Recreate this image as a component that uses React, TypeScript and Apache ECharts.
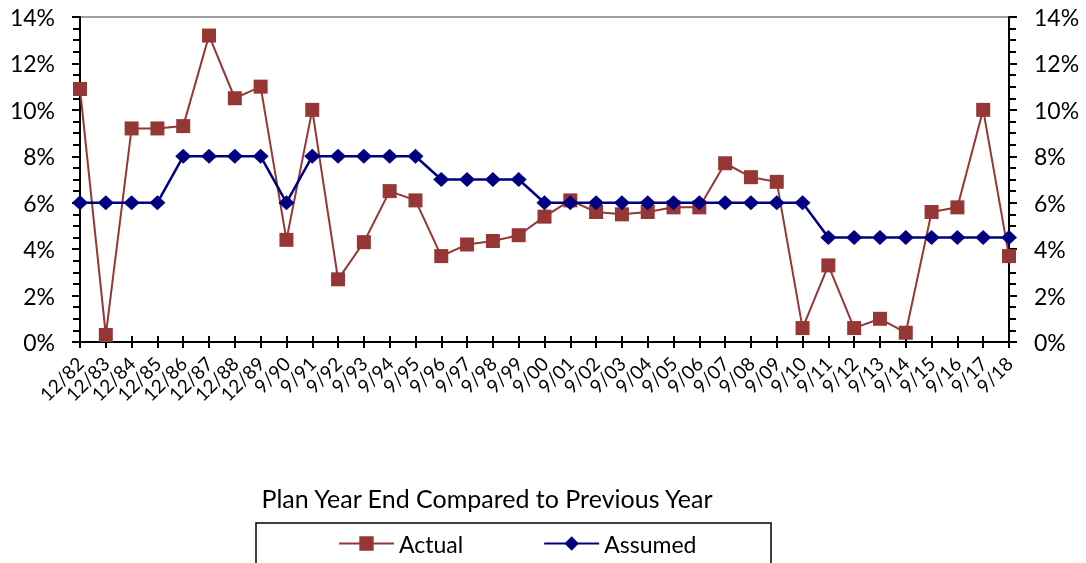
import React, { useEffect, useRef } from "react";
import * as echarts from "echarts";

const categories = [
  "12/82", "12/83", "12/84", "12/85", "12/86", "12/87", "12/88", "12/89",
  "9/90", "9/91", "9/92", "9/93", "9/94", "9/95", "9/96", "9/97", "9/98", "9/99",
  "9/00", "9/01", "9/02", "9/03", "9/04", "9/05", "9/06", "9/07", "9/08", "9/09",
  "9/10", "9/11", "9/12", "9/13", "9/14", "9/15", "9/16", "9/17", "9/18",
];

const actual = [
  10.9, 0.3, 9.2, 9.2, 9.3, 13.2, 10.5, 11.0,
  4.4, 10.0, 2.7, 4.3, 6.5, 6.1, 3.7, 4.2, 4.35, 4.6,
  5.4, 6.1, 5.6, 5.5, 5.6, 5.8, 5.8, 7.7, 7.1, 6.9,
  0.6, 3.3, 0.6, 1.0, 0.4, 5.6, 5.8, 10.0, 3.7,
];

const assumed = [
  6.0, 6.0, 6.0, 6.0, 8.0, 8.0, 8.0, 8.0,
  6.0, 8.0, 8.0, 8.0, 8.0, 8.0, 7.0, 7.0, 7.0, 7.0,
  6.0, 6.0, 6.0, 6.0, 6.0, 6.0, 6.0, 6.0, 6.0, 6.0,
  6.0, 4.5, 4.5, 4.5, 4.5, 4.5, 4.5, 4.5, 4.5,
];

const chartTitle = "Plan Year End Compared to Previous Year";
const FONT = "Lato, 'Open Sans', sans-serif";

export default function App() {
  const ref = useRef<HTMLDivElement>(null);
  useEffect(() => {
    if (!ref.current) return;
    const chart = echarts.init(ref.current, undefined, { renderer: "svg" });
    const yAxisBase = (position: "left" | "right") => ({
      type: "value",
      position,
      min: 0,
      max: 14,
      interval: 2,
      axisLine: { show: true, lineStyle: { color: "#000", width: 2 } },
      axisTick: { show: true, length: 8, lineStyle: { color: "#000", width: 2 } },
      minorTick: { show: true, splitNumber: 4, length: 7, lineStyle: { color: "#000", width: 2 } },
      splitLine: { show: false },
      axisLabel: {
        formatter: (v: number) => `${v}%`,
        color: "#000",
        fontSize: 23,
        fontFamily: FONT,
        margin: 25,
      },
    });
    chart.setOption({
      animation: false,
      grid: {
        left: 80,
        right: 77,
        top: 17,
        bottom: 221,
        show: true,
        borderColor: "#808080",
        borderWidth: 1.5,
      },
      xAxis: [
        {
          type: "category",
          data: categories,
          boundaryGap: false,
          position: "bottom",
          axisLine: { show: true, lineStyle: { color: "#000", width: 2 } },
          axisTick: { show: true, length: 6, interval: 0, lineStyle: { color: "#000", width: 2 } },
          axisLabel: {
            interval: 0,
            rotate: 45,
            color: "#000",
            fontSize: 19,
            fontFamily: FONT,
            margin: 18,
          },
        },
        {
          type: "category",
          data: categories,
          boundaryGap: false,
          position: "bottom",
          axisLine: { show: false },
          axisTick: { show: true, inside: true, length: 6, interval: 0, lineStyle: { color: "#000", width: 2 } },
          axisLabel: { show: false },
        },
      ],
      yAxis: [yAxisBase("left"), yAxisBase("right")],
      legend: {
        left: 333,
        top: 527,
        itemWidth: 55,
        itemHeight: 18,
        itemGap: 80,
        textStyle: { fontSize: 23, fontFamily: FONT, color: "#000" },
        data: ["Actual", "Assumed"],
      },
      graphic: [
        {
          type: "text",
          x: 487,
          y: 498,
          style: {
            text: chartTitle,
            fontSize: 25,
            fontFamily: FONT,
            fill: "#000",
            align: "center",
            verticalAlign: "middle",
          },
        },
        {
          type: "rect",
          shape: { x: 256, y: 523, width: 515, height: 60 },
          style: { fill: "none", stroke: "#000", lineWidth: 1.5 },
        },
      ],
      series: [
        {
          name: "Actual",
          type: "line",
          data: actual,
          symbol: "rect",
          symbolSize: 14,
          lineStyle: { color: "#953735", width: 2 },
          itemStyle: { color: "#953735" },
          z: 2,
        },
        {
          name: "Assumed",
          type: "line",
          data: assumed,
          symbol: "diamond",
          symbolSize: [16, 15],
          lineStyle: { color: "#000080", width: 2.5 },
          itemStyle: { color: "#000080" },
          z: 3,
        },
      ],
    });
    return () => chart.dispose();
  }, []);
  return (
    <div
      ref={ref}
      style={{ position: "fixed", left: 0, top: 0, width: 1086, height: 563 }}
    />
  );
}
